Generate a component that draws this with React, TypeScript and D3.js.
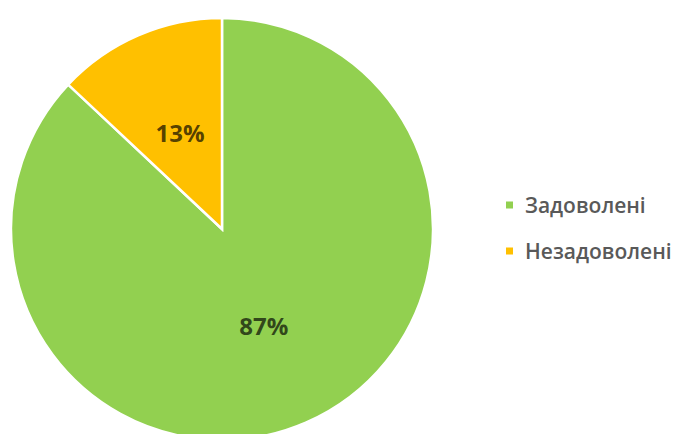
import React from "react";
import * as d3 from "d3";

const categories = ["Задоволені", "Незадоволені"];
const values = [87, 13];
const colors = ["#92D050", "#FFC000"];

export default function App() {
  const width = 676;
  const height = 434;
  const cx = 222;
  const cy = 229;
  const r = 211;

  const pie = d3
    .pie<number>()
    .sort(null)
    .value((d) => d)
    .startAngle(0)
    .endAngle(2 * Math.PI);
  const arcs = pie(values);
  const arc = d3.arc<d3.PieArcDatum<number>>().innerRadius(0).outerRadius(r);
  const labelArc = d3.arc<d3.PieArcDatum<number>>().innerRadius(r * 0.5).outerRadius(r * 0.5);

  return (
    <svg
      width={width}
      height={height}
      style={{ position: "absolute", left: 0, top: 0, background: "#fff" }}
    >
      <g transform={`translate(${cx},${cy})`}>
        {arcs.map((a, i) => (
          <path key={i} d={arc(a) || ""} fill={colors[i]} stroke="#fff" strokeWidth={2.5} />
        ))}
        {arcs.map((a, i) => {
          const [x, y] = labelArc.centroid(a);
          return (
            <text
              key={"l" + i}
              x={x}
              y={y}
              textAnchor="middle"
              dominantBaseline="central"
              fontFamily="'Open Sans', sans-serif"
              fontWeight="bold"
              fontSize={24}
              fill="#000"
              fillOpacity={0.68}
            >
              {values[i]}%
            </text>
          );
        })}
      </g>
      <g fontFamily="'Open Sans', sans-serif" fontSize={21} fontWeight={600} fill="#595959">
        {categories.map((c, i) => (
          <g key={c} transform={`translate(506,${205 + i * 46})`}>
            <rect x={0} y={-3.5} width={7} height={7} fill={colors[i]} />
            <text x={19} y={0} dominantBaseline="central">
              {c}
            </text>
          </g>
        ))}
      </g>
    </svg>
  );
}
